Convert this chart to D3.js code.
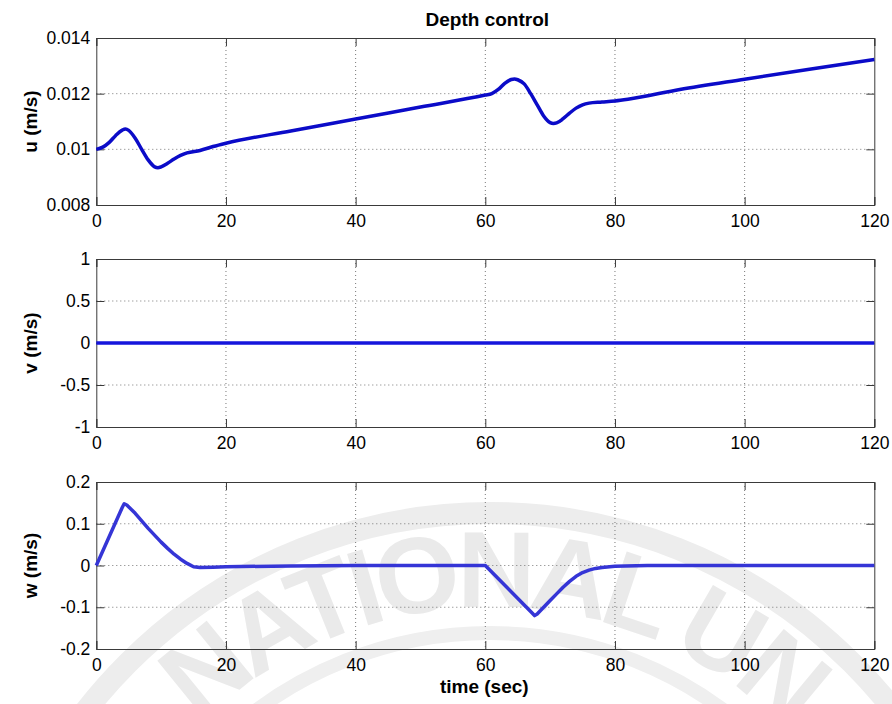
<!DOCTYPE html>
<html>
<head>
<meta charset="utf-8">
<script src="https://cdn.jsdelivr.net/npm/d3@7"></script>
<style>
  body { margin: 0; background: #fff; }
  svg { display: block; font-family: "Liberation Sans", Arial, sans-serif; }
  .tick text { font-size: 17.5px; fill: #000; }
</style>
</head>
<body>
<div class="container"></div>
<script>
// time samples (sec)
const uTime = [0, 1, 2, 3, 4, 4.5, 5, 6, 7, 8, 9, 9.5, 10, 11, 12, 13, 14, 16, 18, 20, 30, 40, 50, 60,
  61, 62, 63, 64, 64.5, 65, 66, 67, 68, 69, 70, 70.5, 71, 72, 73, 74, 75, 76, 78, 80, 82, 90, 100, 110, 120];
const uValues = [0.0100, 0.01008, 0.01025, 0.01050, 0.01069, 0.01073, 0.01068, 0.01040, 0.01000, 0.00962, 0.00937, 0.00934, 0.00937, 0.00950, 0.00965, 0.00978, 0.00987, 0.00996, 0.01010, 0.01022, 0.01066, 0.01109, 0.01152, 0.01195,
  0.01200, 0.01215, 0.01237, 0.01251, 0.01253, 0.01250, 0.01235, 0.01200, 0.01160, 0.01120, 0.01096, 0.01093, 0.01095, 0.01110, 0.01130, 0.01148, 0.01160, 0.01166, 0.01170, 0.01174, 0.01180, 0.01215, 0.01252, 0.01288, 0.01323];

const vTime = [0, 120];
const vValues = [0, 0];

const wTime = [0, 4, 4.3, 4.7, 6, 8, 10, 11, 12, 13, 14, 15, 16, 18, 20, 30, 40, 60,
  67.3, 67.6, 68, 69, 70, 71, 72, 73, 74, 75, 76, 77, 78, 80, 85, 100, 120];
const wValues = [0, 0.139, 0.148, 0.145, 0.125, 0.089, 0.056, 0.041, 0.027, 0.015, 0.005, -0.003, -0.005, -0.004, -0.003, -0.001, 0, 0,
  -0.115, -0.120, -0.116, -0.100, -0.084, -0.068, -0.052, -0.038, -0.026, -0.017, -0.011, -0.007, -0.005, -0.002, 0, 0, 0];

// ticks and labels
const xTicks = [0, 20, 40, 60, 80, 100, 120];
const uTicks = [0.008, 0.010, 0.012, 0.014];
const uTickLabels = ["0.008", "0.01", "0.012", "0.014"];
const vTicks = [-1, -0.5, 0, 0.5, 1];
const vTickLabels = ["-1", "-0.5", "0", "0.5", "1"];
const wTicks = [-0.2, -0.1, 0, 0.1, 0.2];
const wTickLabels = ["-0.2", "-0.1", "0", "0.1", "0.2"];

const width = 892, height = 704;
const left = 96.3, right = 874.3;

const svg = d3.select(".container")
  .append("svg")
  .attr("width", width)
  .attr("height", height);

// faint watermark behind the plots
const mark = svg.append("g").attr("id", "watermark");
const cx = 490, cy = 1025, rText = 418;
mark.append("circle")
  .attr("cx", cx).attr("cy", cy).attr("r", 512)
  .attr("fill", "none").attr("stroke", "#ededed").attr("stroke-width", 22);
mark.append("circle")
  .attr("cx", cx).attr("cy", cy).attr("r", 392)
  .attr("fill", "none").attr("stroke", "#efefef").attr("stroke-width", 14);
mark.append("path")
  .attr("id", "markArc")
  .attr("fill", "none")
  .attr("d", `M ${cx - rText} ${cy} A ${rText} ${rText} 0 0 1 ${cx + rText} ${cy}`);
mark.append("text")
  .attr("font-size", 108)
  .attr("font-weight", "bold")
  .attr("fill", "#eaeaea")
  .attr("letter-spacing", -8)
  .append("textPath")
  .attr("href", "#markArc")
  .attr("startOffset", Math.PI * rText * 46 / 180)
  .text("NATIONAL UN");

const xScale = d3.scaleLinear().domain([0, 120]).range([left, right]);

const panels = [
  { top: 38, bottom: 205, domain: [0.008, 0.014], ticks: uTicks, labels: uTickLabels,
    time: uTime, values: uValues, color: "#0b0bc8", name: "u (m/s)", curve: d3.curveMonotoneX },
  { top: 259, bottom: 427, domain: [-1, 1], ticks: vTicks, labels: vTickLabels,
    time: vTime, values: vValues, color: "#1515dc", name: "v (m/s)", curve: d3.curveLinear },
  { top: 482, bottom: 649, domain: [-0.2, 0.2], ticks: wTicks, labels: wTickLabels,
    time: wTime, values: wValues, color: "#3535d6", name: "w (m/s)", curve: d3.curveLinear }
];

panels.forEach((p) => {
  const yScale = d3.scaleLinear().domain(p.domain).range([p.bottom, p.top]);
  const g = svg.append("g");

  // dotted grid
  g.selectAll(".gx").data(xTicks.slice(1, -1)).join("line")
    .attr("x1", (d) => xScale(d)).attr("x2", (d) => xScale(d))
    .attr("y1", p.top).attr("y2", p.bottom)
    .attr("stroke", "#777").attr("stroke-width", 1).attr("stroke-dasharray", "1,3");
  g.selectAll(".gy").data(p.ticks.slice(1, -1)).join("line")
    .attr("x1", left).attr("x2", right)
    .attr("y1", (d) => yScale(d)).attr("y2", (d) => yScale(d))
    .attr("stroke", "#777").attr("stroke-width", 1).attr("stroke-dasharray", "1,3");

  // axes with inward ticks on all four sides
  const xAxis = d3.axisBottom(xScale).tickValues(xTicks).tickSize(-8).tickPadding(10).tickFormat(d3.format("d"));
  const xTop = d3.axisTop(xScale).tickValues(xTicks).tickSize(-8).tickFormat("");
  const yAxis = d3.axisLeft(yScale).tickValues(p.ticks).tickSize(-8).tickPadding(6)
    .tickFormat((d, i) => p.labels[i]);
  const yRight = d3.axisRight(yScale).tickValues(p.ticks).tickSize(-8).tickFormat("");

  [
    g.append("g").attr("transform", `translate(0,${p.bottom})`).call(xAxis),
    g.append("g").attr("transform", `translate(0,${p.top})`).call(xTop),
    g.append("g").attr("transform", `translate(${left},0)`).call(yAxis),
    g.append("g").attr("transform", `translate(${right},0)`).call(yRight)
  ].forEach((a) => {
    a.select(".domain").attr("stroke", "#3a3a3a");
    a.selectAll(".tick line").attr("stroke", "#3a3a3a");
    a.attr("font-family", null).attr("font-size", null);
  });

  // the series
  const line = d3.line()
    .x((d) => xScale(d[0]))
    .y((d) => yScale(d[1]))
    .curve(p.curve);
  g.append("path")
    .datum(d3.zip(p.time, p.values))
    .attr("fill", "none")
    .attr("stroke", p.color)
    .attr("stroke-width", 3.5)
    .attr("stroke-linejoin", "round")
    .attr("d", line);

  // y label
  g.append("text")
    .attr("transform", `translate(37,${(p.top + p.bottom) / 2}) rotate(-90)`)
    .attr("text-anchor", "middle")
    .attr("font-size", 19)
    .attr("font-weight", "bold")
    .text(p.name);
});

svg.append("text")
  .attr("x", (left + right) / 2 + 2)
  .attr("y", 26)
  .attr("text-anchor", "middle")
  .attr("font-size", 19)
  .attr("font-weight", "bold")
  .text("Depth control");

svg.append("text")
  .attr("x", (left + right) / 2 - 1)
  .attr("y", 693)
  .attr("text-anchor", "middle")
  .attr("font-size", 19)
  .attr("font-weight", "bold")
  .text("time (sec)");
</script>
</body>
</html>
